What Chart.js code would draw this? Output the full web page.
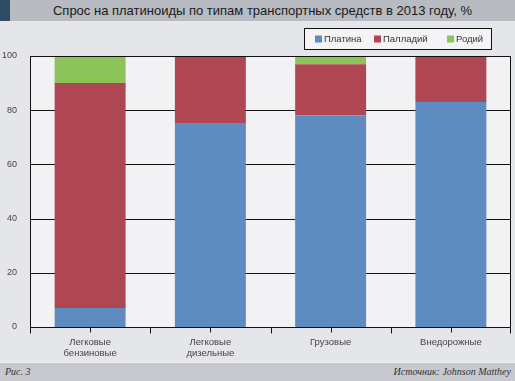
<!DOCTYPE html>
<html><head><meta charset="utf-8">
<script src="https://cdn.jsdelivr.net/npm/chart.js@4"></script>
<style>
html,body{margin:0;padding:0;background:#e5e6e9;width:515px;height:381px;overflow:hidden;}
#title{position:absolute;left:0;top:0;width:515px;height:21px;background:#b8bbc2;}
#strip{position:absolute;left:0;top:0;width:10px;height:21px;background:#2e4b66;}
#title span{position:absolute;left:10px;right:0;top:0;line-height:21px;text-align:center;font-family:"Liberation Sans",Arial,sans-serif;font-size:13px;color:#1a1a1a;}
#wrap{position:absolute;left:0;top:21px;width:515px;height:341px;}
#foot{position:absolute;left:0;top:362px;width:515px;height:19px;background:#c7c9ce;border-top:1px solid #eef0f2;box-sizing:border-box;font-family:"Liberation Serif","DejaVu Serif",serif;font-style:italic;font-size:10px;color:#333;}
#foot .l{position:absolute;left:5px;top:3px;}
#foot .r{position:absolute;right:4px;top:3px;}
</style></head><body>
<div id="title"><div id="strip"></div><span>Спрос на платиноиды по типам транспортных средств в 2013 году, %</span></div>
<div id="wrap"><canvas id="c" width="515" height="341"></canvas></div>
<div id="foot"><span class="l">Рис. 3</span><span class="r">Источник: Johnson Matthey</span></div>
<script>
const categories = [["Легковые","бензиновые"],["Легковые","дизельные"],"Грузовые","Внедорожные"];
const seriesNames = ["Платина","Палладий","Родий"];
const platinum = [7, 75, 78, 83];
const palladium = [83, 25, 19, 17];
const rhodium = [10, 0, 3, 0];
const yTicks = [0, 20, 40, 60, 80, 100];
const colors = ["#5e8cc0", "#ae4753", "#8cc45b"];

const FONT = '"Liberation Sans", Arial, sans-serif';

const decor = {
  id: 'decor',
  beforeDatasetsDraw(chart) {
    const {ctx, chartArea: a} = chart;
    ctx.save();
    ctx.fillStyle = '#f2f2f4';
    ctx.fillRect(a.left, a.top, a.right - a.left, a.bottom - a.top);
    const y = chart.scales.y;
    ctx.strokeStyle = '#111';
    ctx.lineWidth = 1;
    yTicks.forEach(v => {
      const py = Math.round(y.getPixelForValue(v)) + 0.5;
      ctx.beginPath(); ctx.moveTo(a.left, py); ctx.lineTo(a.right, py); ctx.stroke();
    });
    ctx.restore();
  },
  afterDraw(chart) {
    const {ctx, chartArea: a} = chart;
    const x = chart.scales.x;
    ctx.save();
    ctx.strokeStyle = '#111';
    ctx.lineWidth = 1;
    const L = Math.round(a.left) + 0.5, R = Math.round(a.right) - 0.5;
    const T = Math.round(a.top) + 0.5, B = Math.round(a.bottom) + 0.5;
    ctx.beginPath();
    ctx.moveTo(L, T); ctx.lineTo(R, T); ctx.lineTo(R, B); ctx.lineTo(L, B); ctx.closePath();
    ctx.stroke();
    const n = categories.length;
    for (let i = 0; i < n; i++) {
      const c = Math.round(x.getPixelForValue(i)) + 0.5;
      ctx.beginPath(); ctx.moveTo(c, B); ctx.lineTo(c, B + 5); ctx.stroke();
    }
    for (let i = 0; i <= n; i++) {
      let px = Math.round(x.getPixelForValue(i - 0.5)) + 0.5;
      if (i === n) px = R;
      ctx.beginPath(); ctx.moveTo(px, B); ctx.lineTo(px, B + 6); ctx.stroke();
    }
    const bx = 304.5, by = 7.5, bw = 187, bh = 21;
    ctx.fillStyle = '#f4f4f6';
    ctx.fillRect(bx, by, bw, bh);
    ctx.strokeStyle = '#111';
    ctx.strokeRect(bx, by, bw, bh);
    const items = [315, 374, 447];
    ctx.font = '9.5px ' + FONT;
    ctx.textBaseline = 'middle';
    chart.data.datasets.forEach((ds, i) => {
      ctx.fillStyle = ds.backgroundColor;
      ctx.fillRect(items[i], by + 7, 7, 7);
      ctx.fillStyle = '#333';
      ctx.fillText(ds.label, items[i] + 9, by + bh / 2 + 0.5);
    });
    ctx.restore();
  }
};

new Chart(document.getElementById('c'), {
  type: 'bar',
  data: {
    labels: categories,
    datasets: [
      {label: seriesNames[0], data: platinum, backgroundColor: colors[0]},
      {label: seriesNames[1], data: palladium, backgroundColor: colors[1]},
      {label: seriesNames[2], data: rhodium, backgroundColor: colors[2]}
    ]
  },
  options: {
    responsive: false,
    animation: false,
    devicePixelRatio: 1,
    layout: {padding: {left: 0, right: 4, top: 35, bottom: 0}},
    datasets: {bar: {categoryPercentage: 1, barPercentage: 0.59, borderWidth: 0}},
    plugins: {legend: {display: false}, tooltip: {enabled: false}},
    scales: {
      x: {
        stacked: true,
        grid: {display: false},
        border: {display: false},
        ticks: {color: '#444', font: {family: FONT, size: 9.5, lineHeight: 1.25}, padding: 1, maxRotation: 0},
        afterFit(s) { s.height = 35; }
      },
      y: {
        stacked: true,
        min: 0, max: 100,
        afterBuildTicks(s) { s.ticks = yTicks.map(v => ({value: v})); },
        grid: {display: false},
        border: {display: false},
        ticks: {color: '#444', font: {family: FONT, size: 9}, padding: 5},
        afterFit(s) { s.width = 30; }
      }
    }
  },
  plugins: [decor]
});
</script>
</body></html>
